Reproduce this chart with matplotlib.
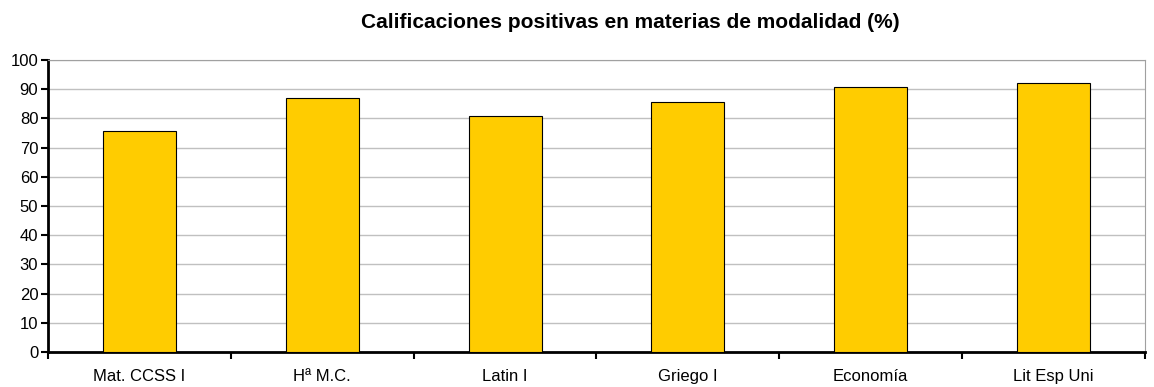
import numpy as np
import matplotlib.pyplot as plt

plt.rcParams['font.family'] = ['Liberation Sans', 'DejaVu Sans']

# materias y porcentaje de calificaciones positivas
materias = ['Mat. CCSS I', 'Hª M.C.', 'Latin I', 'Griego I', 'Economía', 'Lit Esp Uni']
positivas = [75.7, 87.1, 80.9, 85.7, 90.8, 92.2]
y_ticks = list(range(0, 101, 10))

fig = plt.figure(figsize=(11.54, 3.87), dpi=100)
ax = fig.add_axes([48 / 1154, 1 - 352 / 387, (1145 - 48) / 1154, (352 - 60) / 387])

x = np.arange(len(materias))
ax.bar(x, positivas, width=0.4, color='#FFCC00', edgecolor='black', linewidth=0.8, zorder=3)

ax.set_xlim(-0.5, len(materias) - 0.5)
ax.set_ylim(0, 100)
ax.set_yticks(y_ticks)
ax.set_xticks(x)
ax.set_xticklabels(materias)
ax.set_xticks(np.arange(-0.5, len(materias)), minor=True)
ax.tick_params(axis='x', which='major', length=0, pad=12, labelsize=12)
ax.tick_params(axis='x', which='minor', length=5, width=1.5, direction='out')
ax.tick_params(axis='y', length=5, width=1.5, labelsize=12, pad=2)

ax.grid(axis='y', color='#c0c0c0', linewidth=1, zorder=0)
for s in ['top', 'right']:
    ax.spines[s].set_color('#a0a0a0')
for s in ['left', 'bottom']:
    ax.spines[s].set_linewidth(2)

fig.text(630 / 1154, 1 - 23 / 387, 'Calificaciones positivas en materias de modalidad (%)',
         ha='center', va='center', fontsize=15, fontweight='bold')

plt.savefig('out.png', dpi=100)
